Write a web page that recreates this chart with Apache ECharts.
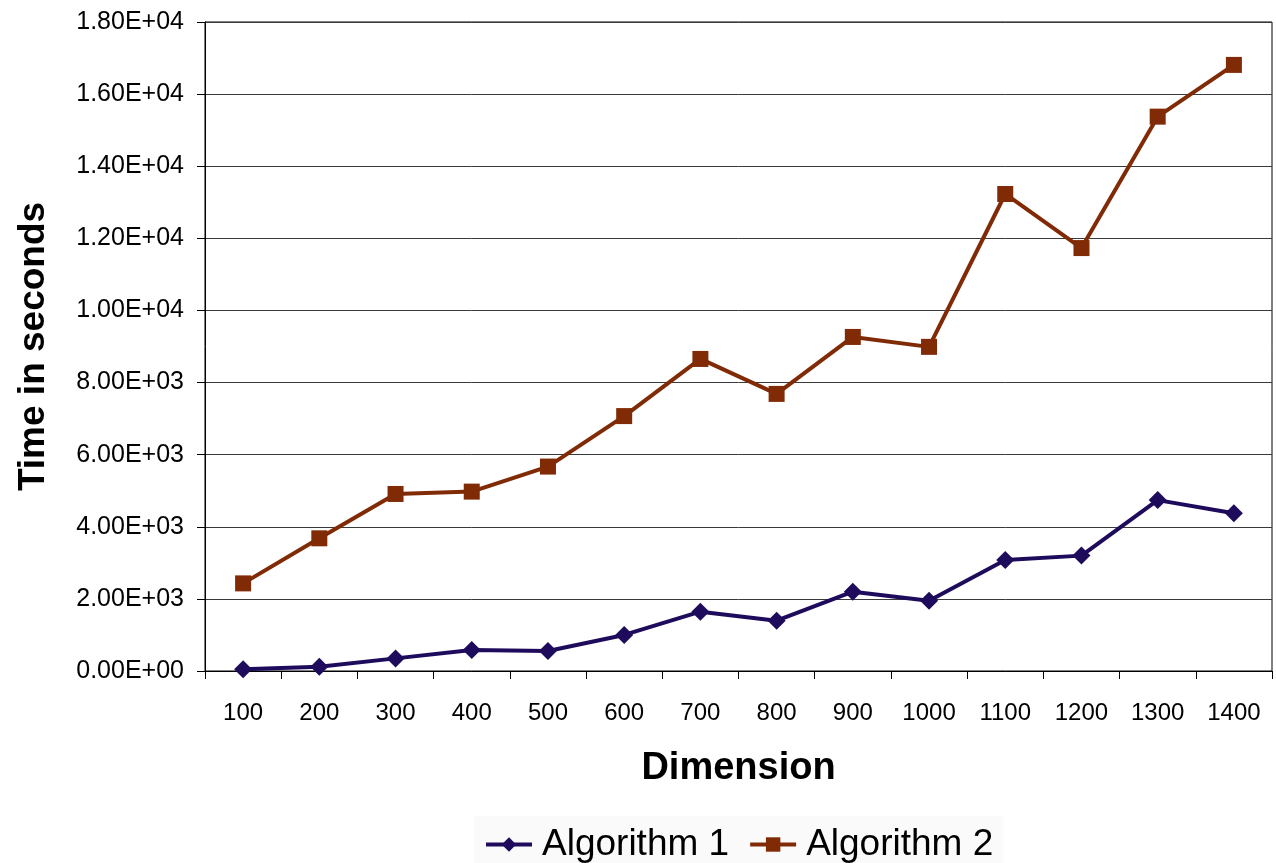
<!DOCTYPE html>
<html>
<head>
<meta charset="utf-8">
<script src="https://cdn.jsdelivr.net/npm/echarts@6/dist/echarts.min.js"></script>
<style>
  html, body { margin: 0; padding: 0; background: #ffffff; }
  #chart { width: 1276px; height: 863px; }
</style>
</head>
<body>
<div id="chart"></div>
<script>
// Matrix dimension on the x axis
const dimensions = ['100', '200', '300', '400', '500', '600', '700', '800', '900', '1000', '1100', '1200', '1300', '1400'];

// Running time in seconds for each algorithm
const algorithm1 = [50, 120, 350, 580, 555, 1000, 1645, 1395, 2200, 1950, 3080, 3200, 4740, 4375];
const algorithm2 = [2430, 3680, 4910, 4975, 5670, 7070, 8655, 7685, 9265, 8990, 13230, 11730, 15375, 16810];

const seriesNames = ['Algorithm 1', 'Algorithm 2'];

// Spreadsheet-style scientific notation, e.g. 1.80E+04
function sci(v) {
  if (v === 0) return '0.00E+00';
  const exp = Math.floor(Math.log10(Math.abs(v)));
  const mant = v / Math.pow(10, exp);
  const sign = exp < 0 ? '-' : '+';
  const e = String(Math.abs(exp)).padStart(2, '0');
  return mant.toFixed(2) + 'E' + sign + e;
}

const font = '"Liberation Sans", Arial, Helvetica, sans-serif';

const chart = echarts.init(document.getElementById('chart'), null, { renderer: 'canvas' });

chart.setOption({
  backgroundColor: '#ffffff',
  animation: false,
  textStyle: { fontFamily: font, color: '#000' },
  grid: {
    left: 205, top: 22, right: 4, bottom: 192,
    outerBoundsMode: 'none',
    containLabel: false,
    show: true, borderColor: '#000', borderWidth: 1
  },
  legend: {
    top: 816,
    left: 474,
    padding: [10, 10, 4, 10],
    backgroundColor: '#fafafa',
    itemWidth: 46,
    itemHeight: 18,
    itemGap: 19,
    lineStyle: { width: 4 },
    textStyle: { fontFamily: font, fontSize: 37, color: '#000', padding: [0, 0, 0, 5] },
    data: seriesNames
  },
  xAxis: {
    type: 'category',
    data: dimensions,
    boundaryGap: true,
    name: 'Dimension',
    nameLocation: 'middle',
    nameGap: 79,
    nameTextStyle: { fontFamily: font, fontSize: 38, fontWeight: 'bold', color: '#000' },
    axisLine: { lineStyle: { color: '#000', width: 1 } },
    axisTick: { show: true, length: 8, lineStyle: { color: '#000' } },
    axisLabel: { fontFamily: font, fontSize: 24, color: '#000', margin: 30, interval: 0 },
    splitLine: { show: false }
  },
  yAxis: {
    type: 'value',
    min: 0,
    max: 18000,
    interval: 2000,
    name: 'Time in seconds',
    nameLocation: 'middle',
    nameGap: 153,
    nameTextStyle: { fontFamily: font, fontSize: 37, fontWeight: 'bold', color: '#000' },
    axisLine: { show: true, lineStyle: { color: '#000', width: 1 } },
    axisTick: { show: true, length: 8, lineStyle: { color: '#000' } },
    axisLabel: { fontFamily: font, fontSize: 25, color: '#000', margin: 21, formatter: sci },
    splitLine: { show: true, lineStyle: { color: '#3a3a3a', width: 1 } }
  },
  series: [
    {
      name: seriesNames[0],
      type: 'line',
      data: algorithm1,
      symbol: 'diamond',
      symbolSize: 18,
      lineStyle: { color: '#1e0b5c', width: 4 },
      itemStyle: { color: '#1e0b5c' },
      z: 3
    },
    {
      name: seriesNames[1],
      type: 'line',
      data: algorithm2,
      symbol: 'rect',
      symbolSize: 16,
      lineStyle: { color: '#802a06', width: 4 },
      itemStyle: { color: '#802a06' },
      z: 3
    }
  ]
});
</script>
</body>
</html>
